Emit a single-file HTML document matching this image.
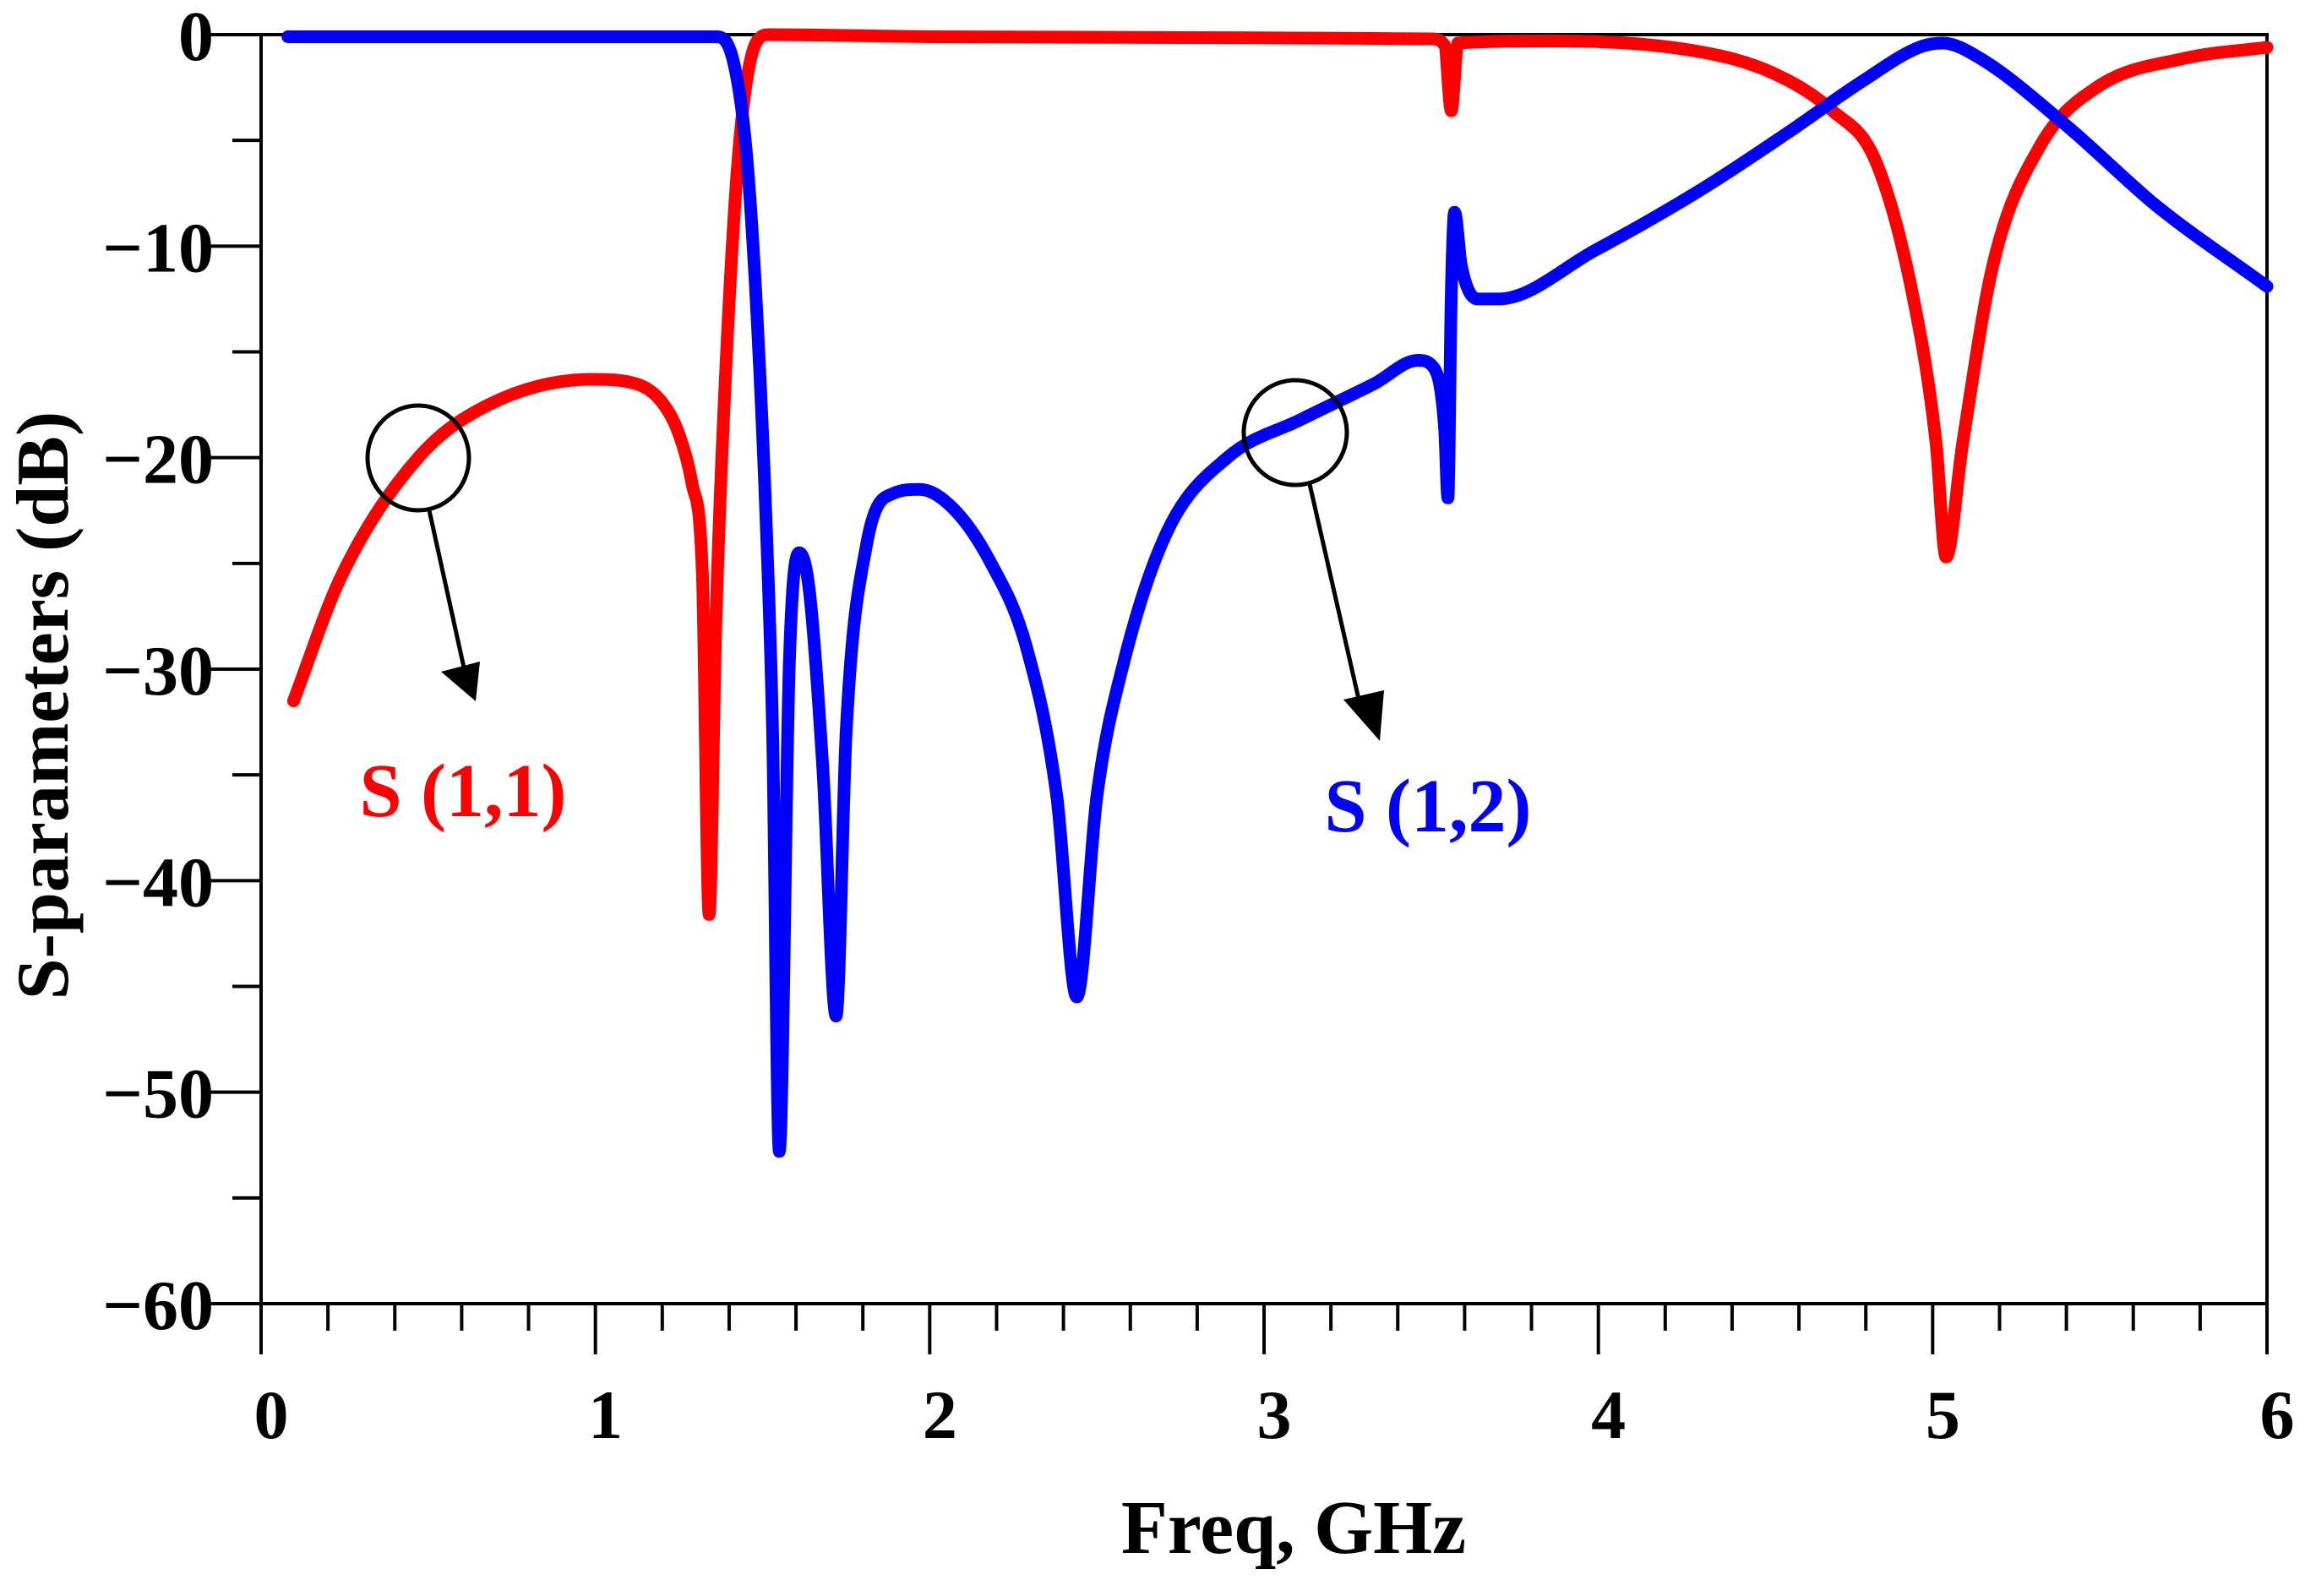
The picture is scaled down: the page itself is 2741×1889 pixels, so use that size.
<!DOCTYPE html>
<html><head><meta charset="utf-8"><style>
html,body{margin:0;padding:0;background:#fff;}
svg text{font-family:"Liberation Serif",serif;font-weight:bold;}
</style></head><body>
<svg id="chart" width="2741" height="1884" viewBox="0 0 2741 1884" xmlns="http://www.w3.org/2000/svg">
<g id="axes"></g>
<g id="series"></g>
<g id="annot">
  <ellipse cx="495" cy="542" rx="60" ry="62" fill="none" stroke="#000" stroke-width="5"/>
  <line x1="508" y1="604" x2="549" y2="790" stroke="#000" stroke-width="5"/>
  <polygon points="563,830 522,795 568,783" fill="#000"/>
  <text x="548" y="966" font-size="90" fill="#ff0000" text-anchor="middle">S (1,1)</text>
  <ellipse cx="1533" cy="512" rx="61" ry="62" fill="none" stroke="#000" stroke-width="5"/>
  <line x1="1550" y1="573" x2="1612" y2="845" stroke="#000" stroke-width="5"/>
  <polygon points="1633,877 1590,828 1638,817" fill="#000"/>
  <text x="1690" y="984" font-size="90" fill="#0000ff" text-anchor="middle">S (1,2)</text>
</g>
<text transform="translate(80,835) rotate(-90)" font-size="88" text-anchor="middle">S-parameters (dB)</text>
<text x="1531" y="1838" font-size="90" text-anchor="middle">Freq, GHz</text>
</svg>
<script>
const s11Freq = [0.097,0.24,0.47,0.68,0.99,1.12,1.2,1.25,1.29,1.32,1.34,1.36,1.39,1.43,1.48,1.52,2.0,3.0,3.5,3.54,3.56,3.58,3.86,4.3,4.52,4.7,4.83,4.94,5.01,5.04,5.09,5.18,5.32,5.49,5.76,6.0];
const s11dB   = [-31.5,-25.6,-20,-17.5,-16.3,-16.5,-17.4,-18.9,-21.3,-25.5,-41.6,-28,-15.8,-5.3,-0.4,0,-0.1,-0.15,-0.2,-0.5,-3.6,-0.4,-0.3,-0.8,-1.8,-3.6,-6,-12.3,-19.3,-24.7,-19.3,-10.9,-5.3,-2.5,-1.1,-0.6];
const s12Freq = [0.08,1.36,1.41,1.45,1.48,1.51,1.53,1.55,1.58,1.61,1.64,1.68,1.72,1.75,1.81,1.89,1.97,2.07,2.18,2.29,2.38,2.44,2.5,2.58,2.71,2.89,3.11,3.33,3.46,3.51,3.54,3.55,3.56,3.57,3.59,3.64,3.7,3.99,4.3,4.57,4.79,4.96,5.03,5.14,5.4,5.67,6.0];
const s12dB   = [-0.1,-0.1,-1.1,-5.3,-12.3,-22.8,-33,-52.8,-29.7,-24.5,-26.3,-34.6,-46.4,-33,-24.2,-21.7,-21.5,-22.4,-24.9,-29,-36,-45.5,-36,-29.7,-23.5,-20,-18.2,-16.5,-15.4,-15.8,-18.6,-21.9,-12.3,-8.4,-10.9,-12.5,-12.5,-10.2,-7.4,-4.6,-2.2,-0.6,-0.4,-1.1,-4.3,-8.1,-11.9];
const yTicks = [0,-10,-20,-30,-40,-50,-60];
const xTicks = [0,1,2,3,4,5,6];

const X0=309, X1=2683, Y0=41, Y1=1543;
const xs = f => X0 + (f/6)*(X1-X0);
const ys = d => Y0 + (-d/60)*(Y1-Y0);
const NS='http://www.w3.org/2000/svg';
const axes=document.getElementById('axes'), series=document.getElementById('series');
function mk(tag, attrs, parent){const e=document.createElementNS(NS,tag);for(const k in attrs)e.setAttribute(k,attrs[k]);parent.appendChild(e);return e;}

let e;
e=mk('rect',{x:X0,y:Y0,width:X1-X0,height:Y1-Y0,fill:'none',stroke:'#000','stroke-width':4},axes);


e=mk('line',{x1:X0,y1:Y1,x2:X0,y2:Y1+60,stroke:'#000','stroke-width':4},axes);


for(let d=0; d>=-60; d-=5){
  const major = d%10===0;
  e=mk('line',{x1:X0-(major?62:34),y1:ys(d),x2:X0,y2:ys(d),stroke:'#000','stroke-width':4},axes);
  
  
}
yTicks.forEach(v=>{
  e=mk('text',{x:X0-56,y:ys(v)+30,'font-size':84,'text-anchor':'end'},axes);
  e.textContent = v===0 ? '0' : '\u2212'+Math.abs(v);
  
  
});
for(let i=0;i<=30;i++){
  const f=i*0.2, major=i%5===0;
  e=mk('line',{x1:xs(f),y1:Y1,x2:xs(f),y2:Y1+(major?60:32),stroke:'#000','stroke-width':4},axes);
  
  
}
xTicks.forEach(v=>{
  e=mk('text',{x:xs(v)+12,y:1702,'font-size':82,'text-anchor':'middle'},axes);
  e.textContent=String(v);
  
  
});
function monoPath(px,py){
  const n=px.length, d=[], m=new Array(n);
  for(let i=0;i<n-1;i++) d.push((py[i+1]-py[i])/(px[i+1]-px[i]));
  m[0]=d[0]; m[n-1]=d[n-2];
  for(let i=1;i<n-1;i++) m[i]=(d[i-1]*d[i]<=0)?0:(d[i-1]+d[i])/2;
  for(let i=0;i<n-1;i++){
    if(d[i]===0){m[i]=0;m[i+1]=0;continue;}
    const a=m[i]/d[i], b=m[i+1]/d[i], s=a*a+b*b;
    if(s>9){const t=3/Math.sqrt(s);m[i]=t*a*d[i];m[i+1]=t*b*d[i];}
  }
  let p='M'+px[0].toFixed(1)+','+py[0].toFixed(1);
  for(let i=0;i<n-1;i++){
    const h=px[i+1]-px[i];
    p+=' C'+(px[i]+h/3).toFixed(1)+','+(py[i]+m[i]*h/3).toFixed(1)+' '+(px[i+1]-h/3).toFixed(1)+','+(py[i+1]-m[i+1]*h/3).toFixed(1)+' '+px[i+1].toFixed(1)+','+py[i+1].toFixed(1);
  }
  return p;
}
function line(fr,db,color,name){
  const p=mk('path',{d:monoPath(fr.map(xs),db.map(ys)),fill:'none',stroke:color,'stroke-width':15,'stroke-linejoin':'round','stroke-linecap':'round'},series);
  
  
}
line(s11Freq,s11dB,'#ff0000','s11-line');
line(s12Freq,s12dB,'#0000ff','s12-line');
</script>
</body></html>
